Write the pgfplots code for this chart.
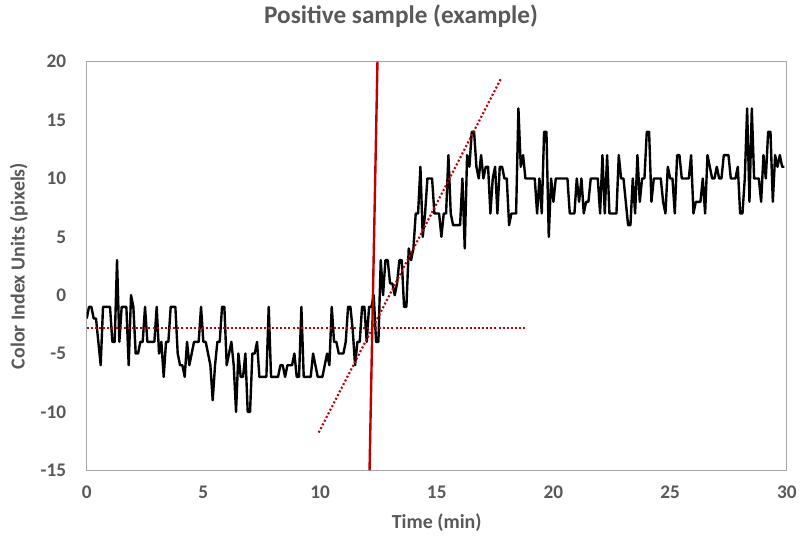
\documentclass[border=0pt]{standalone}
\usepackage{fontspec}
\setmainfont{Carlito}
\usepackage{pgfplots}
\pgfplotsset{compat=1.18}
\definecolor{textgray}{RGB}{89,89,89}
\definecolor{axisgray}{RGB}{166,166,166}
\definecolor{darkred}{RGB}{192,0,0}

\pgfplotstableread{
t v
0.0 -2
0.1 -1
0.2 -1
0.3 -2
0.4 -2
0.5 -4
0.6 -6
0.7 -1
0.8 -1
0.9 -1
1.0 -1
1.1 -4
1.2 -4
1.3 3
1.4 -4
1.5 -1
1.6 -1
1.7 -1
1.8 -6
1.9 0
2.0 -1
2.1 -5
2.2 -5
2.3 -4
2.4 -4
2.5 -1
2.6 -4
2.7 -4
2.8 -4
2.9 -4
3.0 -1
3.1 -5
3.2 -4
3.3 -7
3.4 -4
3.5 -4
3.6 -1
3.7 -1
3.8 -1
3.9 -5
4.0 -6
4.1 -6
4.2 -7
4.3 -4
4.4 -6
4.5 -5
4.6 -4
4.7 -4
4.8 -4
4.9 -1
5.0 -4
5.1 -4
5.2 -5
5.3 -6
5.4 -9
5.5 -6
5.6 -4
5.7 -4
5.8 -1
5.9 -1
6.0 -6
6.1 -5
6.2 -4
6.3 -6
6.4 -10
6.5 -5
6.6 -7
6.7 -7
6.8 -5
6.9 -10
7.0 -10
7.1 -5
7.2 -5
7.3 -4
7.4 -7
7.5 -7
7.6 -7
7.7 -7
7.8 -1
7.9 -7
8.0 -7
8.1 -7
8.2 -7
8.3 -6
8.4 -6
8.5 -7
8.6 -6
8.7 -6
8.8 -6
8.9 -5
9.0 -7
9.1 -7
9.2 -1
9.3 -7
9.4 -7
9.5 -7
9.6 -7
9.7 -5
9.8 -6
9.9 -7
10.0 -7
10.1 -7
10.2 -6
10.3 -5
10.4 -6
10.5 -1
10.6 -4
10.7 -4
10.8 -5
10.9 -5
11.0 -5
11.1 -4
11.2 -1
11.3 -1
11.4 -3
11.5 -6
11.6 -4
11.7 -4
11.8 -1
11.9 -1
12.0 -4
12.1 -1
12.2 -1
12.3 0
12.4 -4
12.5 -4
12.6 3
12.7 0
12.8 3
12.9 3
13.0 1
13.1 1
13.2 0
13.3 1
13.4 3
13.5 3
13.6 -1
13.7 -1
13.8 4
13.9 3
14.0 4
14.1 7
14.2 7
14.3 11
14.4 5
14.5 7
14.6 10
14.7 10
14.8 10
14.9 7
15.0 7
15.1 7
15.2 5
15.3 7
15.4 7
15.5 12
15.6 7
15.7 6
15.8 6
15.9 6
16.0 6
16.1 10
16.2 4
16.3 12
16.4 11
16.5 14
16.6 14
16.7 11
16.8 10
16.9 12
17.0 10
17.1 11
17.2 11
17.3 7
17.4 10
17.5 11
17.6 7
17.7 11
17.8 11
17.9 10
18.0 10
18.1 6
18.2 7
18.3 7
18.4 7
18.5 16
18.6 11
18.7 12
18.8 10
18.9 10
19.0 10
19.1 10
19.2 10
19.3 7
19.4 10
19.5 7
19.6 14
19.7 14
19.8 5
19.9 10
20.0 8
20.1 10
20.2 10
20.3 10
20.4 10
20.5 10
20.6 10
20.7 7
20.8 7
20.9 7
21.0 10
21.1 8
21.2 10
21.3 7
21.4 8
21.5 8
21.6 10
21.7 10
21.8 10
21.9 10
22.0 7
22.1 12
22.2 7
22.3 12
22.4 7
22.5 7
22.6 7
22.7 7
22.8 12
22.9 10
23.0 10
23.1 8
23.2 6
23.3 6
23.4 10
23.5 7
23.6 12
23.7 8
23.8 10
23.9 10
24.0 14
24.1 14
24.2 8
24.3 10
24.4 10
24.5 10
24.6 10
24.7 8
24.8 7
24.9 11
25.0 10
25.1 10
25.2 7
25.3 12
25.4 12
25.5 10
25.6 10
25.7 10
25.8 10
25.9 12
26.0 7
26.1 8
26.2 8
26.3 8
26.4 10
26.5 7
26.6 12
26.7 11
26.8 10
26.9 10
27.0 11
27.1 10
27.2 10
27.3 12
27.4 12
27.5 12
27.6 10
27.7 10
27.8 10
27.9 11
28.0 7
28.1 7
28.2 10
28.3 16
28.4 8
28.5 16
28.6 10
28.7 10
28.8 10
28.9 8
29.0 12
29.1 10
29.2 14
29.3 14
29.4 8
29.5 12
29.6 11
29.7 12
29.8 11
29.9 11
}\sampledata

\begin{document}
\begin{tikzpicture}
\begin{axis}[
    name=ax,
    scale only axis,
    width=527pt, height=307.5pt,
    xmin=0, xmax=30,
    ymin=-15, ymax=20,
    xtick={0,5,...,30},
    ytick={-15,-10,...,20},
    major tick length=0pt,
    axis line style={axisgray, line width=0.8pt},
    /pgf/number format/assume math mode=true,
    tick label style={font=\bfseries\fontsize{14.5}{17}\selectfont, text=textgray},
    yticklabel style={xshift=-12pt},
    xticklabel style={yshift=-8pt},
    xlabel={Time (min)},
    ylabel={Color Index Units (pixels)},
    label style={font=\bfseries\fontsize{15}{18}\selectfont, text=textgray},
    xlabel style={at={(axis description cs:0.5,-0.127)}, anchor=center},
    ylabel style={at={(axis description cs:-0.097,0.5)}, anchor=center},
    title={Positive sample (example)},
    title style={at={(axis description cs:0.449,1.093)}, anchor=center,
        font=\bfseries\fontsize{19}{22}\selectfont, text=textgray},
]
\addplot[black, line width=1.8pt, line join=round] table[x=t, y=v] {\sampledata};

% onset threshold
\addplot[darkred, line width=1.6pt, dash pattern=on 1.5pt off 1.6pt]
    coordinates {(0,-2.8) (18.78,-2.8)};
% rising slope fit
\addplot[darkred, line width=1.6pt, dash pattern=on 1.5pt off 1.6pt]
    coordinates {(9.94,-11.77) (17.75,18.55)};
% onset marker
\addplot[darkred, line width=1.8pt]
    coordinates {(12.12,-15) (12.46,20)};
\end{axis}
\path ([shift={(-65.25pt,-52.5pt)}]ax.south west) rectangle ([shift={(8.25pt,45pt)}]ax.north east);
\end{tikzpicture}
\end{document}
